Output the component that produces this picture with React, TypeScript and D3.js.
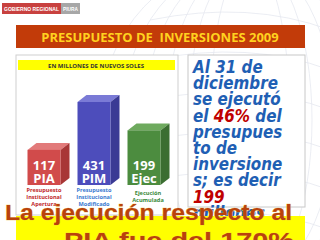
import * as d3 from 'd3';

const categories = ['PIA', 'PIM', 'Ejec'];
const values = [117, 431, 199];
const descriptions = [
  ['Presupuesto', 'Institucional', 'Apertura'],
  ['Presupuesto', 'Institucional', 'Modificado'],
  ['Ejecución', 'Acumulada'],
];
const barColors = [
  { front: '#d14b4b', top: '#e27a7a', side: '#a83636', label: '#c0282a' },
  { front: '#4d4dbb', top: '#7a7ad6', side: '#3a3a94', label: '#3a7ad0' },
  { front: '#4c8c3f', top: '#6eaa5e', side: '#3b6e31', label: '#3a8a3a' },
];
// right panel text, each line is a list of [text, highlighted]
const noteLines: [string, boolean][][] = [
  [['Al 31 de', false]],
  [['diciembre', false]],
  [['se ejecutó', false]],
  [['el ', false], ['46%', true], [' del', false]],
  [['presupues', false]],
  [['to de', false]],
  [['inversione', false]],
  [['s; es decir', false]],
  [['199', true]],
  [['millones', false]],
];

const DEPTH_X = 9;
const DEPTH_Y = -7;

const App = () => {
  const x = d3.scaleBand<string>()
    .domain(categories)
    .range([19, 169])
    .paddingInner(0.34)
    .paddingOuter(0.17);

  // bars in the slide are not to scale, a log scale gets closest
  const y = d3.scaleLog().domain([45, 431]).range([185, 102]);
  const base = y(45);
  const bw = x.bandwidth();

  const arcs = d3.range(6);

  return (
    <div style={{ position: 'fixed', left: 0, top: 0 }}>
      <svg width={320} height={240} style={{ display: 'block', background: '#fff' }}>
        {/* faint globe pattern */}
        <g fill="none" stroke="#e6e9f0" strokeWidth={0.8}>
          {arcs.map(i => (
            <ellipse key={i} cx={250} cy={120} rx={40 + i * 22} ry={160} />
          ))}
          {arcs.map(i => (
            <path key={'h' + i} d={`M 150 ${20 + i * 40} Q 250 ${i * 40} 330 ${30 + i * 40}`} />
          ))}
        </g>

        {/* header logo */}
        <rect x={2} y={3} width={59} height={11} fill="#c8413f" />
        <rect x={61} y={3} width={19} height={11} fill="#a7a7a7" />
        <text x={4} y={10.8} fontFamily="Liberation Sans" fontWeight="bold"
          fontSize={5.2} fill="#fff" textLength={55} lengthAdjust="spacingAndGlyphs">GOBIERNO REGIONAL</text>
        <text x={63} y={10.8} fontFamily="Liberation Sans" fontWeight="bold"
          fontSize={5.2} fill="#fff" textLength={15} lengthAdjust="spacingAndGlyphs">PIURA</text>

        {/* title */}
        <rect x={16} y={25} width={289} height={23} fill="#c23b09" />
        <text x={160} y={41.5} textAnchor="middle" fontFamily="Open Sans" fontWeight="bold"
          fontSize={13} fill="#ffd21f" xmlSpace="preserve">PRESUPUESTO DE  INVERSIONES 2009</text>

        {/* chart panel */}
        <rect x={16} y={55} width={162} height={160} fill="#fff" stroke="#cfcfcf" strokeWidth={1} />
        <rect x={18} y={60} width={157} height={10} fill="#ffff00" />
        <text x={96} y={67.5} textAnchor="middle" fontFamily="Open Sans" fontWeight="bold"
          fontSize={6} fill="#333">EN MILLONES DE NUEVOS SOLES</text>

        {categories.map((c, i) => {
          const x0 = x(c) as number;
          const top = y(values[i]);
          const col = barColors[i];
          return (
            <g key={c}>
              <polygon
                points={`${x0},${top} ${x0 + DEPTH_X},${top + DEPTH_Y} ${x0 + bw + DEPTH_X},${top + DEPTH_Y} ${x0 + bw},${top}`}
                fill={col.top} />
              <polygon
                points={`${x0 + bw},${top} ${x0 + bw + DEPTH_X},${top + DEPTH_Y} ${x0 + bw + DEPTH_X},${base + DEPTH_Y} ${x0 + bw},${base}`}
                fill={col.side} />
              <rect x={x0} y={top} width={bw} height={base - top} fill={col.front} />
              <text x={x0 + bw / 2} y={base - 15} textAnchor="middle" fontFamily="Open Sans"
                fontWeight="bold" fontSize={13} fill="#fff">{values[i]}</text>
              <text x={x0 + bw / 2} y={base - 2} textAnchor="middle" fontFamily="Open Sans"
                fontWeight="bold" fontSize={13} fill="#fff">{c}</text>
              {descriptions[i].map((d, j) => (
                <text key={j} x={x0 + bw / 2 + (i === 2 ? 4 : 0)}
                  y={base + 7 + (descriptions[i].length === 2 ? 3 : 0) + j * 7}
                  textAnchor="middle" fontFamily="Open Sans" fontWeight="bold" fontSize={5.6}
                  fill={col.label}>{d}</text>
              ))}
            </g>
          );
        })}

        {/* right note */}
        <rect x={188} y={55} width={117} height={152} fill="#fff" stroke="#c8c8c8" strokeWidth={1} />
        <g transform="translate(193,0) scale(0.82,1)">
          {noteLines.map((line, i) => (
            <text key={i} x={0} y={73 + i * 16.2} fontFamily="DejaVu Sans" fontWeight="bold"
              fontStyle="italic" fontSize={18.5} fill="#1f5fb4" xmlSpace="preserve">
              {line.map(([t, hl], j) => (
                <tspan key={j} fill={hl ? '#c00000' : '#1f5fb4'}>{t}</tspan>
              ))}
            </text>
          ))}
        </g>

        {/* bottom banner */}
        <rect x={16} y={216} width={289} height={30} fill="#ffff00" />
        <g fontFamily="Liberation Sans" fontWeight="bold" fontSize={22} fill="#b9420c"
          stroke="#f2c94c" strokeWidth={0.6} paintOrder="stroke">
          <text x={5} y={220} textLength={287} lengthAdjust="spacingAndGlyphs">La ejecución respecto al</text>
          <text x={64} y={248} textLength={230} lengthAdjust="spacingAndGlyphs">PIA fue del 170%</text>
        </g>
      </svg>
    </div>
  );
};

export default App;
